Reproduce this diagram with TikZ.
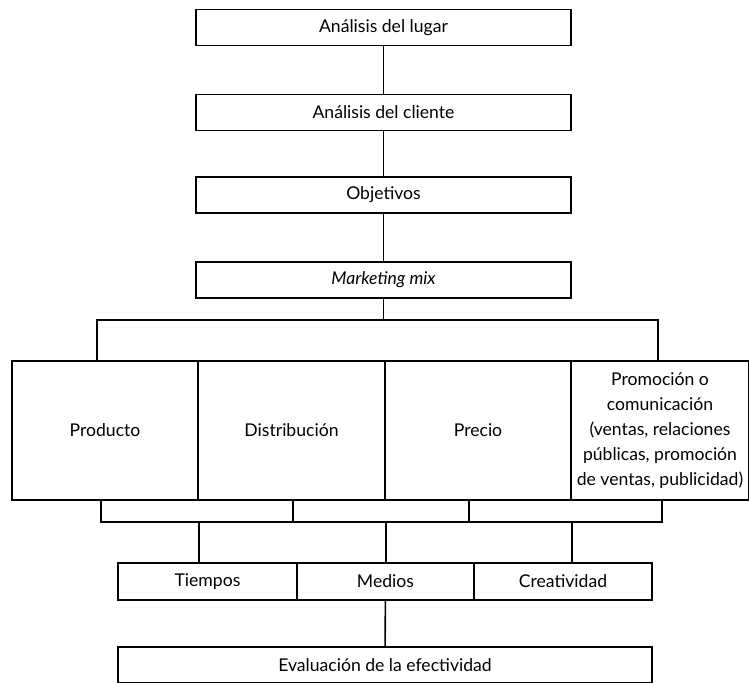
\documentclass[tikz,border=0pt]{standalone}
\usepackage{fontspec}
\setmainfont{Lato}
\begin{document}
\begin{tikzpicture}[x=0.75pt,y=0.75pt,yscale=-1,xscale=1,
  box/.style={draw, line width=1.2pt, inner sep=0pt, minimum height=27pt, align=center, font=\fontsize{13.2}{18.75}\selectfont},
  link/.style={line width=1.2pt}]
\useasboundingbox (0,0) rectangle (749,682);

\draw (383.5,27.5) node [box, minimum width=281.25pt] (lugar) {Análisis del lugar};
\draw (383.5,112.5) node [box, minimum width=281.25pt] (cliente) {Análisis del cliente};
\draw (383.5,195) node [box, minimum width=281.25pt] (obj) {Objetivos};
\draw (383.5,280) node [box, minimum width=281.25pt] (mix) {\itshape Marketing mix};

\draw (105,430.5) node [box, minimum width=139.5pt, minimum height=104.25pt] (prod) {Producto};
\draw (291.5,430.5) node [box, minimum width=140.25pt, minimum height=104.25pt] (dist) {Distribución};
\draw (478,430.5) node [box, minimum width=139.5pt, minimum height=104.25pt] (prec) {Precio};
\draw (660,430.5) node [box, minimum width=133.5pt, minimum height=104.25pt] (promo) {Promoción o\\comunicación\\(ventas, relaciones\\públicas, promoción\\de ventas, publicidad)};

\draw (207.5,581.5) node [box, minimum width=134.25pt, minimum height=27.75pt] (tiem) {Tiempos};
\draw (385.5,581.5) node [box, minimum width=132.75pt, minimum height=27.75pt] (medi) {Medios};
\draw (563,581.5) node [box, minimum width=133.5pt, minimum height=27.75pt] (crea) {Creatividad};
\draw (385,665) node [box, minimum width=400.5pt] (eval) {Evaluación de la efectividad};

\coordinate (bar1l) at (97,320);
\coordinate (bar1r) at (658,320);
\coordinate (bar2l) at (101,522);
\coordinate (bar2a) at (293,522);
\coordinate (bar2b) at (469,522);
\coordinate (bar2r) at (662,522);

\draw [link] (lugar) -- (cliente);
\draw [link] (cliente) -- (obj);
\draw [link] (obj) -- (mix);
\draw [link] (mix.south) -- (mix.south |- bar1l);
\draw [link] (bar1l |- prod.north) -- (bar1l) -- (bar1r) -- (bar1r |- promo.north);
\draw [link] (bar2l |- prod.south) -- (bar2l) -- (bar2r) -- (bar2r |- promo.south);
\draw [link] (bar2a |- dist.south) -- (bar2a);
\draw [link] (bar2b |- prec.south) -- (bar2b);
\draw [link] (prod.south east |- bar2l) -- (prod.south east |- tiem.north);
\draw [link] (dist.south east |- bar2l) -- (dist.south east |- medi.north);
\draw [link] (prec.south east |- bar2l) -- (prec.south east |- crea.north);
\draw [link] (medi) -- (eval);

\end{tikzpicture}
\end{document}
